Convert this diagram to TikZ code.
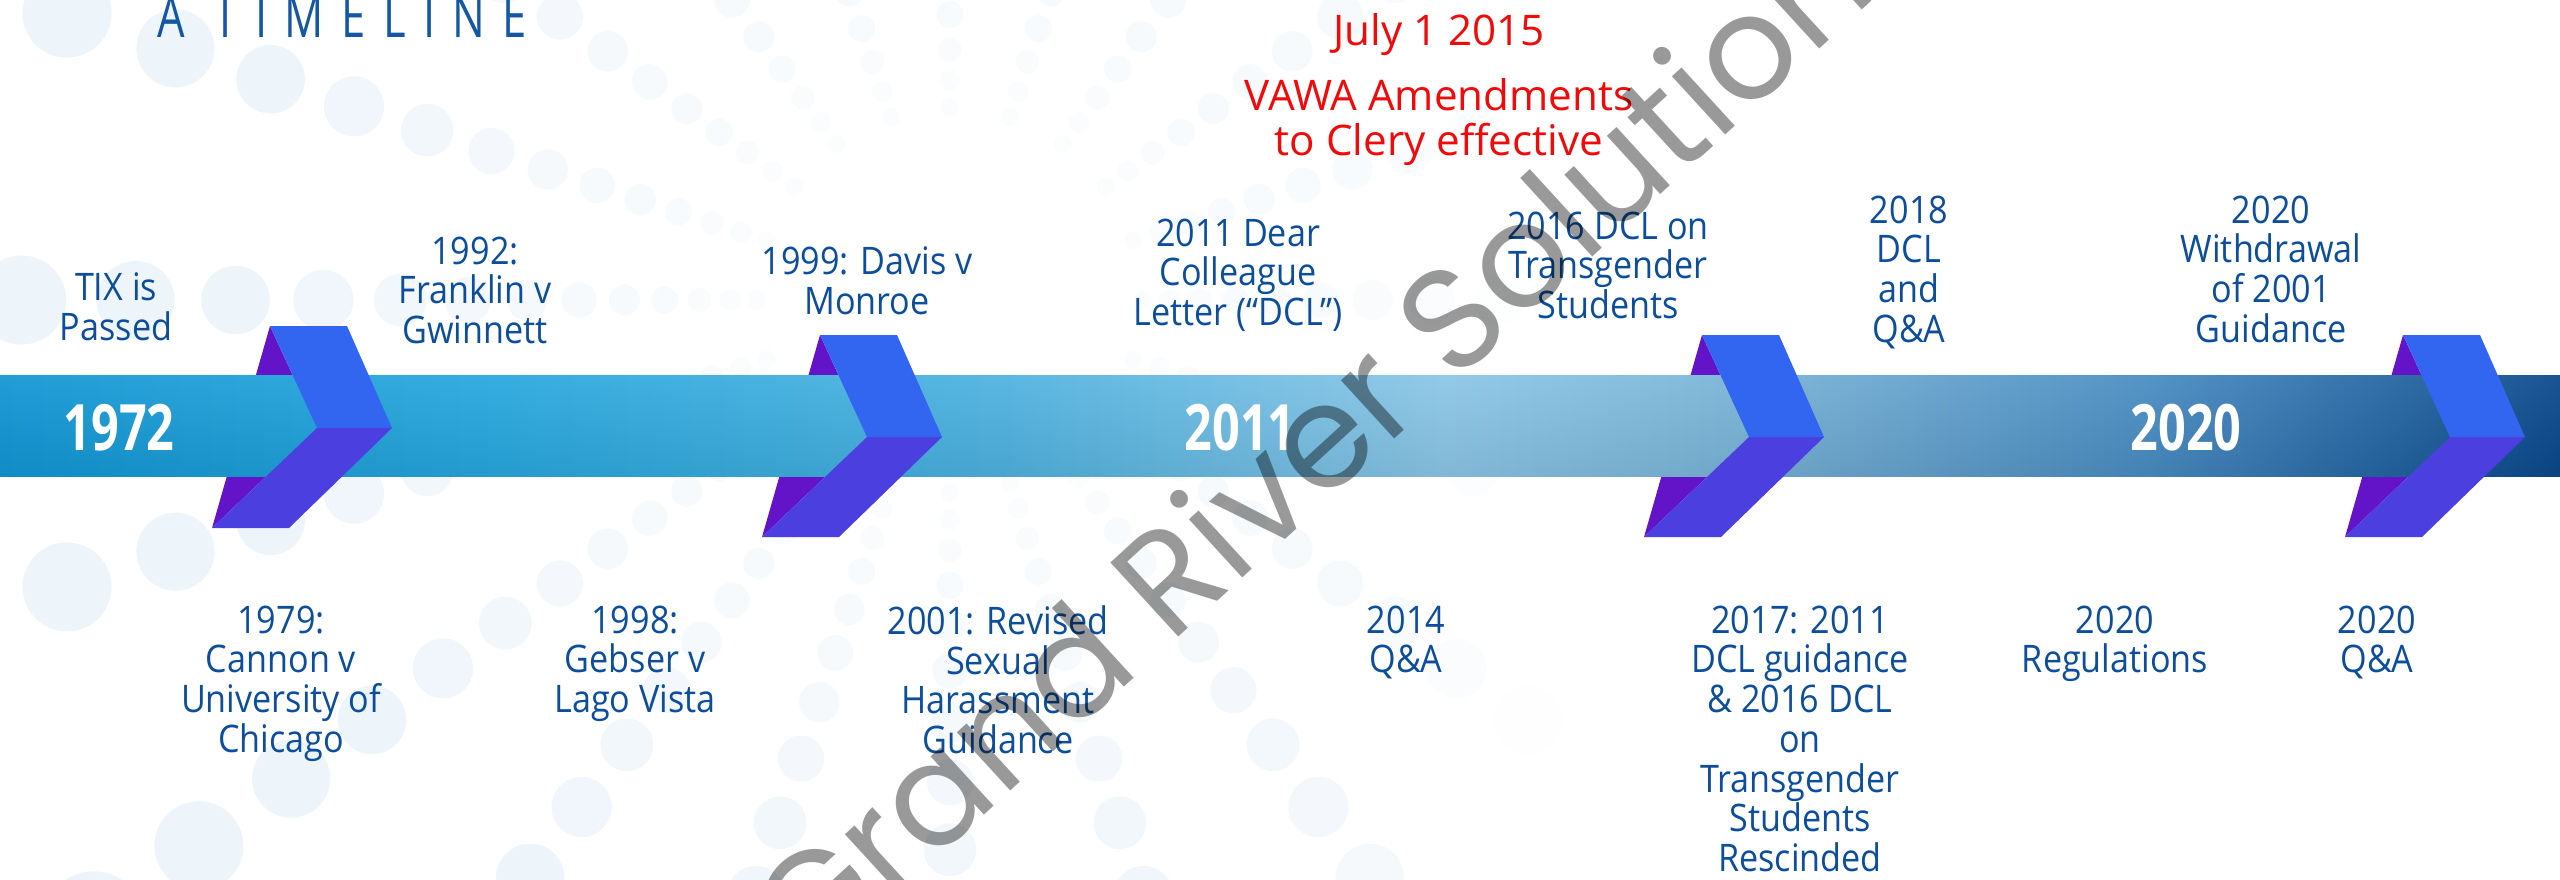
\documentclass[tikz,border=0pt]{standalone}
\usepackage{fontspec}
\setmainfont{Open Sans}
\newfontfamily\labelfont[FakeStretch=0.9]{Open Sans}
\newfontfamily\yearfont[FakeStretch=0.76]{Open Sans}
\newfontfamily\titlefont[FakeStretch=0.75,LetterSpace=30]{Open Sans}
\newfontfamily\markfont{Poppins}

\definecolor{txtblue}{RGB}{12,78,156}
\definecolor{titleblue}{RGB}{20,88,164}
\definecolor{alertred}{RGB}{240,10,10}
\definecolor{chevtop}{RGB}{51,102,240}
\definecolor{chevlow}{RGB}{76,63,224}
\definecolor{chevback}{RGB}{100,20,200}
\definecolor{dotblue}{RGB}{222,235,246}
\definecolor{barA}{RGB}{18,150,212}
\definecolor{barB}{RGB}{40,168,222}
\definecolor{barC}{RGB}{78,178,224}
\definecolor{barD}{RGB}{140,198,230}
\definecolor{barE}{RGB}{120,178,214}
\definecolor{barF}{RGB}{72,140,194}
\definecolor{barG}{RGB}{10,72,140}

\pgfdeclarehorizontalshading{barshade}{100bp}{color(0bp)=(barA); color(25bp)=(barA);
  color(34.8bp)=(barB); color(44.5bp)=(barC); color(53.3bp)=(barD);
  color(59.2bp)=(barE); color(67bp)=(barF); color(75bp)=(barG); color(100bp)=(barG)}

\begin{document}
\begin{tikzpicture}[x=0.1mm,y=-0.1mm,inner sep=0pt,
    lbl/.style={font=\labelfont\fontsize{10.8}{11.3}\selectfont,text=txtblue,
      align=center,anchor=north},
    yearlbl/.style={font=\yearfont\bfseries\fontsize{18.2}{20}\selectfont,text=white},
    redlbl/.style={font=\fontsize{12}{12.8}\selectfont,text=alertred,align=center}]

  % page frame
  \useasboundingbox (0,0) rectangle (2560,879);
  \clip (0,0) rectangle (2560,879);

  % background dots
  \foreach \a in {0,...,19}{
    \foreach \k in {12,...,25}{
      \pgfmathsetmacro\r{40*1.14^\k}
      \pgfmathsetmacro\px{950+\r*cos(18*\a)}
      \pgfmathsetmacro\py{300+\r*sin(18*\a)}
      \pgfmathsetmacro\op{0.5*min(1,\r/700)*max(0,min(1,(1550-\px)/300))}
      \fill[dotblue,opacity=\op] (\px,\py) circle[radius=0.048*\r];
    }
  }

  % chevron backs (under the bar)
  \foreach \cx/\cy in {317/428,867/437,1749/437,2450/437}
    \fill[chevback] ({\cx-47},{\cy-102}) -- (\cx,\cy) -- ({\cx-105},{\cy+100}) -- cycle;

  % timeline bar
  \shade[shading=barshade] (0,375) rectangle (2560,476);
  \shade[top color=white,bottom color=black,opacity=0.07] (0,375) rectangle (2560,476);

  % chevron fronts
  \foreach \cx/\cy in {317/428,867/437,1749/437,2450/437}{
    \fill[chevtop] ({\cx-47},{\cy-102}) -- ({\cx+30},{\cy-102}) -- ({\cx+75},\cy)
      -- (\cx,\cy) -- cycle;
    \fill[chevlow] (\cx,\cy) -- ({\cx+75},\cy) -- ({\cx-28},{\cy+100})
      -- ({\cx-105},{\cy+100}) -- cycle;
  }

  % years on the bar
  \node[yearlbl] (y1972) at (119,428) {1972};
  \node[yearlbl] (y2011) at (1240,428) {2011};
  \node[yearlbl] (y2020) at (2186,428) {2020};

  % title
  \node[anchor=base west,font=\titlefont\fontsize{16.5}{18}\selectfont,
    text=titleblue] (title) at (157,37) {A TIMELINE};

  % events above the bar
  \node[lbl] (tix) at (116,272) {TIX is\\Passed};
  \node[lbl] (franklin) at (475,236) {1992:\\Franklin v\\Gwinnett};
  \node[lbl] (davis) at (867,246) {1999: Davis v\\Monroe};
  \node[lbl] (dcl11) at (1238,218) {2011 Dear\\Colleague\\Letter (“DCL”)};
  \node[lbl] (dcl16) at (1608,211) {2016 DCL on\\Transgender\\Students};
  \node[lbl] (dcl18) at (1909,195) {2018\\DCL\\and\\Q\&A};
  \node[lbl] (withdraw) at (2271,195) {2020\\Withdrawal\\of 2001\\Guidance};

  % events below the bar
  \node[lbl] (cannon) at (281,605) {1979:\\Cannon v\\University of\\Chicago};
  \node[lbl] (gebser) at (635,605) {1998:\\Gebser v\\Lago Vista};
  \node[lbl] (revised) at (998,605) {2001: Revised\\Sexual\\Harassment\\Guidance};
  \node[lbl] (qa14) at (1406,605) {2014\\Q\&A};
  \node[lbl] (rescind) at (1800,605) {2017: 2011\\DCL guidance\\\& 2016 DCL\\on\\Transgender\\Students\\Rescinded};
  \node[lbl] (regs) at (2115,605) {2020\\Regulations};
  \node[lbl] (qa20) at (2377,605) {2020\\Q\&A};

  % VAWA note
  \node[redlbl,anchor=base] (july) at (1439,45) {July 1 2015};
  \node[redlbl,anchor=north] (vawa) at (1439,78) {VAWA Amendments\\to Clery effective};

  % watermark
  \node[font=\markfont\fontsize{41}{44}\selectfont,text=black,opacity=0.4,
    rotate=42.5] (mark) at (1335,420) {Grand River Solutions};
\end{tikzpicture}
\end{document}
